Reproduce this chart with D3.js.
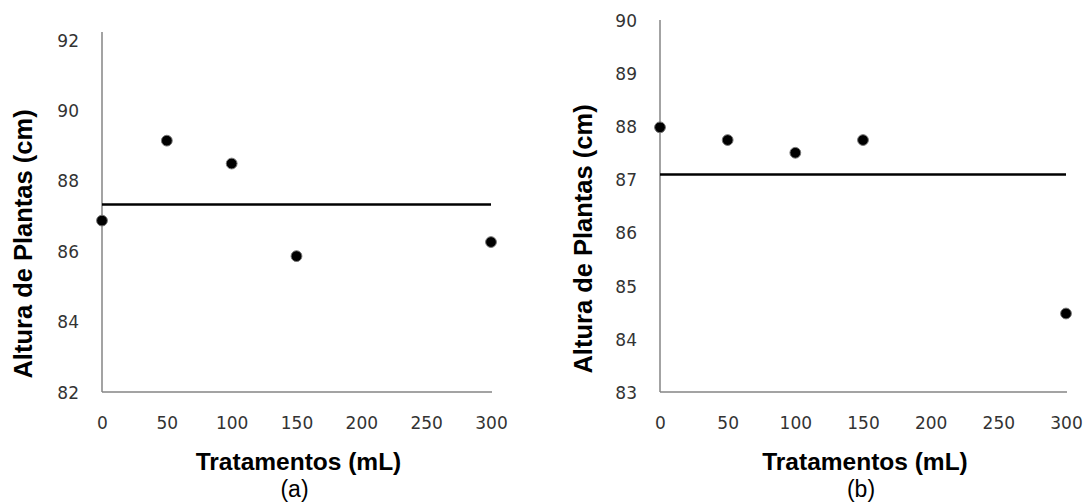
<!DOCTYPE html>
<html>
<head>
<meta charset="utf-8">
<script src="https://cdn.jsdelivr.net/npm/d3@7"></script>
<style>
  html, body { margin: 0; padding: 0; background: #fff; }
  svg { display: block; }
</style>
</head>
<body>
<svg id="chart" width="1084" height="502"></svg>
<script>
// ---- data ----
const treatments = [0, 50, 100, 150, 300];
const heightA = [86.87, 89.14, 88.49, 85.86, 86.26];
const meanA = 87.33;
const heightB = [87.99, 87.75, 87.51, 87.75, 84.48];
const meanB = 87.10;
const xTicks = [0, 50, 100, 150, 200, 250, 300];
const yTicksA = [82, 84, 86, 88, 90, 92];
const yTicksB = [83, 84, 85, 86, 87, 88, 89, 90];
const xTitle = "Tratamentos (mL)";
const yTitle = "Altura de Plantas (cm)";
const panelLabels = ["(a)", "(b)"];

// ---- layout ----
const panels = [
  { values: heightA, mean: meanA, yTicks: yTicksA, label: panelLabels[0],
    x0: 102, x1: 491, yBottom: 392, yTop: 40, axisTop: 32, yTitleX: 32, yTitleY: 244 },
  { values: heightB, mean: meanB, yTicks: yTicksB, label: panelLabels[1],
    x0: 660, x1: 1066, yBottom: 392, yTop: 20.7, axisTop: 20, yTitleX: 592, yTitleY: 239 }
];

const svg = d3.select("#chart");
const tickFont = "DejaVu Sans, Verdana, sans-serif";
const titleFont = "Liberation Sans, Arial, sans-serif";

panels.forEach(p => {
  const yDom = d3.extent(p.yTicks);
  const x = d3.scaleLinear().domain([0, 300]).range([p.x0, p.x1]);
  const y = d3.scaleLinear().domain(yDom).range([p.yBottom, p.yTop]);
  const g = svg.append("g");

  // axes lines
  g.append("line")
    .attr("x1", p.x0).attr("x2", p.x0)
    .attr("y1", p.axisTop).attr("y2", p.yBottom)
    .attr("stroke", "#858585").attr("stroke-width", 1.5);
  g.append("line")
    .attr("x1", p.x0).attr("x2", p.x1 + 1)
    .attr("y1", p.yBottom).attr("y2", p.yBottom)
    .attr("stroke", "#858585").attr("stroke-width", 1.5);

  // y tick labels
  const yAxis = d3.axisLeft(y).tickValues(p.yTicks).tickFormat(d3.format("d"))
    .tickSize(0).tickPadding(23);
  const ya = g.append("g").attr("transform", `translate(${p.x0},0)`).call(yAxis);
  ya.select(".domain").remove();
  ya.selectAll("text")
    .attr("font-family", tickFont)
    .attr("font-size", 17).attr("fill", "#333").attr("dy", "0.36em");

  // x tick labels
  const xAxis = d3.axisBottom(x).tickValues(xTicks).tickFormat(d3.format("d"))
    .tickSize(0).tickPadding(23);
  const xa = g.append("g").attr("transform", `translate(0,${p.yBottom})`).call(xAxis);
  xa.select(".domain").remove();
  xa.selectAll("text")
    .attr("font-family", tickFont)
    .attr("font-size", 17).attr("fill", "#333").attr("dy", "0.36em")
    .attr("y", 31);

  // mean line
  g.append("line")
    .attr("x1", x(0)).attr("x2", x(300))
    .attr("y1", y(p.mean)).attr("y2", y(p.mean))
    .attr("stroke", "#000").attr("stroke-width", 2.5);

  // points
  g.selectAll("circle.pt").data(treatments.map((t, i) => [t, p.values[i]]))
    .enter().append("circle").attr("class", "pt")
    .attr("cx", d => x(d[0])).attr("cy", d => y(d[1]))
    .attr("r", 5.4).attr("fill", "#000")
    .attr("stroke", "#777").attr("stroke-width", 1);

  // x title
  const cx = (p.x0 + p.x1) / 2;
  g.append("text").text(xTitle)
    .attr("x", cx + 2).attr("y", 470).attr("text-anchor", "middle")
    .attr("font-family", titleFont)
    .attr("font-weight", "bold").attr("font-size", 24.5).attr("fill", "#000");
  g.append("text").text(p.label)
    .attr("x", cx - 2).attr("y", 497).attr("text-anchor", "middle")
    .attr("font-family", titleFont)
    .attr("font-size", 23).attr("fill", "#000");

  // y title
  g.append("text").text(yTitle)
    .attr("transform", `translate(${p.yTitleX},${p.yTitleY}) rotate(-90)`)
    .attr("text-anchor", "middle")
    .attr("font-family", titleFont)
    .attr("font-weight", "bold").attr("font-size", 25.5).attr("fill", "#000");
});
</script>
</body>
</html>
